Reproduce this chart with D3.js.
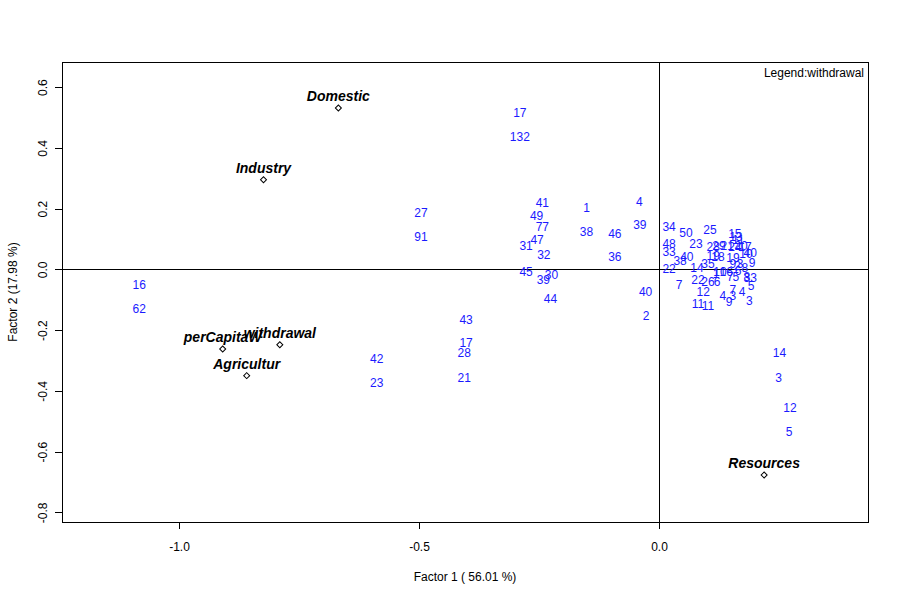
<!DOCTYPE html>
<meta charset="utf-8">
<style>
  body { margin: 0; background: #fff; }
  text { font-family: "Liberation Sans", Arial, sans-serif; }
  line, rect { shape-rendering: crispEdges; }
</style>
<body>
<div id="chart"></div>
<script src="https://d3js.org/d3.v7.min.js"></script>
<script>

// active variables (bold italic labels)
var varNames = ["Domestic", "Industry", "perCapitaW", "withdrawal", "Agricultur", "Resources"];
var varX = [-0.668, -0.824, -0.909, -0.790, -0.859, 0.219];
var varY = [0.531, 0.295, -0.262, -0.248, -0.350, -0.677];

// individuals (blue labels)
var obsLabels = ["16", "62", "27", "91", "42", "23", "43", "17", "28", "21", "17", "132",
  "41", "49", "77", "47", "31", "32", "45", "39", "30", "44", "1", "38", "46", "36",
  "4", "39", "40", "2", "14", "3", "12", "5",
  "34", "48", "33", "22", "38", "40", "50", "7", "23", "25", "15", "14", "35", "22",
  "26", "6", "12", "11", "11", "4", "9", "7", "3", "4", "3", "5", "8", "33", "9",
  "10", "40", "19", "18", "19", "28", "29", "21", "24", "20", "11", "17", "13",
  "10", "16", "1", "6", "2", "9", "3", "8", "7", "5"];
var obsX = [-1.083, -1.083, -0.496, -0.496, -0.588, -0.588, -0.402, -0.402, -0.406, -0.406, -0.290, -0.290,
  -0.243, -0.255, -0.243, -0.254, -0.277, -0.240, -0.277, -0.241, -0.224, -0.226, -0.151, -0.151, -0.092, -0.092,
  -0.041, -0.040, -0.028, -0.027, 0.251, 0.249, 0.273, 0.271,
  0.021, 0.021, 0.021, 0.021, 0.044, 0.058, 0.056, 0.042, 0.077, 0.106, 0.158, 0.079, 0.102, 0.081,
  0.102, 0.121, 0.092, 0.081, 0.102, 0.133, 0.146, 0.154, 0.154, 0.173, 0.188, 0.192, 0.183, 0.190, 0.194,
  0.181, 0.190, 0.113, 0.123, 0.154, 0.113, 0.125, 0.142, 0.158, 0.171, 0.165, 0.179, 0.160,
  0.127, 0.140, 0.119, 0.165, 0.163, 0.154, 0.169, 0.179, 0.148, 0.160];
var obsY = [-0.050, -0.129, 0.185, 0.106, -0.294, -0.373, -0.165, -0.241, -0.274, -0.356, 0.515, 0.436,
  0.218, 0.176, 0.141, 0.097, 0.077, 0.048, -0.007, -0.033, -0.018, -0.097, 0.202, 0.123, 0.119, 0.042,
  0.223, 0.146, -0.072, -0.152, -0.273, -0.355, -0.454, -0.534,
  0.139, 0.086, 0.059, 0.003, 0.030, 0.043, 0.122, -0.050, 0.083, 0.132, 0.119, 0.007, 0.017, -0.033,
  -0.040, -0.040, -0.073, -0.112, -0.119, -0.086, -0.106, -0.066, -0.086, -0.073, -0.102, -0.053, -0.023, -0.026, 0.023,
  0.050, 0.056, 0.046, 0.043, 0.040, 0.073, 0.079, 0.079, 0.076, 0.079, 0.096, 0.073, 0.106,
  -0.007, -0.007, -0.013, -0.003, 0.013, 0.017, 0.017, 0.007, -0.023, -0.023];

var xTicks = [-1.0, -0.5, 0.0];
var yTicks = [-0.8, -0.6, -0.4, -0.2, 0.0, 0.2, 0.4, 0.6];
var xTitle = "Factor 1 ( 56.01 %)";
var yTitle = "Factor 2 (17.98 %)";
var legendText = "Legend:withdrawal";

var W = 900, H = 600;
var plotL = 62, plotR = 868, plotT = 62, plotB = 522;

var svg = d3.select("#chart").append("svg")
  .attr("width", W)
  .attr("height", H);

var x = d3.scaleLinear().domain([-1.2438, 0.4354]).range([plotL, plotR]);
var y = d3.scaleLinear().domain([-0.8317, 0.6825]).range([plotB, plotT]);

// R style labels: plain hyphen minus
var fmt = function(d) { return d3.format(".1f")(d).replace("\u2212", "-"); };

// axes
var xAxis = svg.append("g")
  .attr("transform", "translate(0," + plotB + ")")
  .call(d3.axisBottom(x).tickValues(xTicks).tickFormat(fmt).tickSize(7).tickPadding(13));
xAxis.select(".domain").remove();
xAxis.selectAll("text").attr("font-size", 12).attr("fill", "#000")
  .attr("font-family", "'Liberation Sans', Arial, sans-serif");

var yAxis = svg.append("g")
  .attr("transform", "translate(" + plotL + ",0)")
  .call(d3.axisLeft(y).tickValues(yTicks).tickFormat(fmt).tickSize(7));
yAxis.select(".domain").remove();
yAxis.selectAll("text")
  .attr("x", 0).attr("dy", 0)
  .attr("text-anchor", "middle")
  .attr("transform", "translate(-15,0) rotate(-90)")
  .attr("font-size", 12).attr("fill", "#000")
  .attr("font-family", "'Liberation Sans', Arial, sans-serif");

svg.selectAll(".tick line").attr("stroke", "#000");

// box
svg.append("rect")
  .attr("x", plotL).attr("y", plotT)
  .attr("width", plotR - plotL).attr("height", plotB - plotT)
  .attr("fill", "none").attr("stroke", "#000").attr("stroke-width", 1);

// reference lines
svg.append("line")
  .attr("x1", plotL).attr("x2", plotR)
  .attr("y1", y(0)).attr("y2", y(0))
  .attr("stroke", "#000");
svg.append("line")
  .attr("x1", x(0)).attr("x2", x(0))
  .attr("y1", plotT).attr("y2", plotB)
  .attr("stroke", "#000");

// titles
svg.append("text")
  .attr("x", (plotL + plotR) / 2).attr("y", 581)
  .attr("text-anchor", "middle").attr("font-size", 12)
  .text(xTitle);
svg.append("text")
  .attr("transform", "translate(17," + (plotT + plotB) / 2 + ") rotate(-90)")
  .attr("text-anchor", "middle").attr("font-size", 12)
  .text(yTitle);

svg.append("text")
  .attr("x", 864).attr("y", 77)
  .attr("text-anchor", "end").attr("font-size", 12)
  .text(legendText);

// individuals
var obs = obsLabels.map(function(d, i) { return {label: d, x: obsX[i], y: obsY[i]}; });
svg.append("g").selectAll("text")
  .data(obs)
  .enter().append("text")
    .attr("x", function(d) { return x(d.x); })
    .attr("y", function(d) { return y(d.y); })
    .attr("dy", "0.36em")
    .attr("text-anchor", "middle")
    .attr("font-size", 12)
    .attr("fill", "#1a1aff")
    .text(function(d) { return d.label; });

// variables
var vars = varNames.map(function(d, i) { return {label: d, x: varX[i], y: varY[i]}; });
var diamond = d3.symbol().type(d3.symbolSquare).size(18);
var vg = svg.append("g").selectAll("g")
  .data(vars)
  .enter().append("g")
    .attr("transform", function(d) { return "translate(" + x(d.x) + "," + y(d.y) + ")"; });
vg.append("path")
  .attr("d", diamond)
  .attr("transform", "rotate(45)")
  .attr("fill", "#fff")
  .attr("stroke", "#000")
  .attr("stroke-width", 1);
vg.append("text")
  .attr("y", -7)
  .attr("text-anchor", "middle")
  .attr("font-size", 14)
  .attr("font-weight", "bold")
  .attr("font-style", "italic")
  .attr("fill", "#000")
  .text(function(d) { return d.label; });

</script>
</body>
